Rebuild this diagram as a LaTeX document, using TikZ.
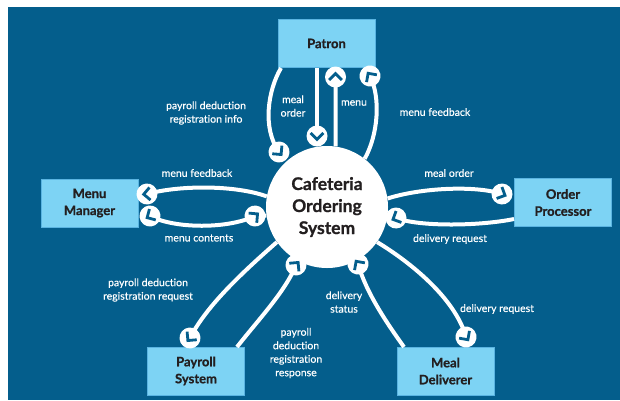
\documentclass[tikz,border=0pt]{standalone}
\usepackage{fontspec}
\setmainfont{Lato}[Ligatures=NoCommon]
\newfontfamily\lblfont{Lato}[Ligatures=NoCommon, FakeBold=0.35]
\newfontfamily\heavyfont{Lato}[Ligatures=NoCommon, BoldFeatures={FakeBold=0.9}]
\definecolor{bgblue}{RGB}{4,94,140}
\definecolor{boxblue}{RGB}{125,211,244}
\definecolor{boxedge}{RGB}{90,180,225}
\definecolor{ink}{RGB}{35,31,32}
\tikzset{
 box/.style={draw=boxedge, line width=0.8pt, fill=boxblue, minimum width=97pt, minimum height=48pt, inner sep=0pt, align=center, text=ink, font=\heavyfont\fontsize{13}{17}\selectfont\bfseries},
 hub/.style={circle, fill=white, minimum size=122pt, inner sep=0pt, align=center, text=ink, font=\heavyfont\fontsize{17.5}{22}\selectfont\bfseries},
 flow/.style={white, line width=4pt},
 lbl/.style={text=white, align=center, inner sep=0pt, font=\lblfont\fontsize{10.5}{13.5}\selectfont},
 pics/chev/.style={code={\fill[white] (0,0) circle (10.5pt);
   \draw[bgblue, line width=2.8pt, line join=miter] (-3pt,6.3pt) -- (3.3pt,0pt) -- (-3pt,-6.3pt);}}
}
\begin{document}
\begin{tikzpicture}[x=1pt,y=-1pt]
\useasboundingbox (0,0) rectangle (620,400);
\fill[white] (0,0) rectangle (620,400);
\fill[bgblue] (8,7) rectangle (620,400);

% nodes
\node[box] (patron) at (326.5,43.5) {Patron};
\node[box] (mm) at (89.5,203) {Menu\\Manager};
\node[box] (op) at (563,202.5) {Order\\Processor};
\node[box] (ps) at (196,371) {Payroll\\System};
\node[box] (md) at (445.5,371) {Meal\\Deliverer};
\node[hub] (sys) at (327,207) {Cafeteria\\Ordering\\System};

% end coordinates
\coordinate (p1s) at (281,68);
\coordinate (t1) at (279,152);
\coordinate (p2s) at (317,68);
\coordinate (t2) at (317,136);
\coordinate (t3) at (335.5,77);
\coordinate (t4) at (370,76);
\coordinate (t5) at (147,194);
\coordinate (t6a) at (150,216);
\coordinate (t6b) at (255,216);
\coordinate (t7) at (502,194);
\coordinate (p8s) at (514,219);
\coordinate (t8) at (396,218);
\coordinate (t9) at (190,338);
\coordinate (p10s) at (237,347);
\coordinate (t10) at (296,265);
\coordinate (p11s) at (404,347);
\coordinate (t11) at (358,264);
\coordinate (t12) at (466,337);

% connectors
\draw[flow] (p1s) .. controls (268,90) and (262,128) .. (t1);
\draw[flow] (p2s) -- (t2);
\draw[flow] (sys.82) -- (t3);
\draw[flow] (sys.52) .. controls (378,135) and (381,98) .. (t4);
\draw[flow] (sys.170) .. controls (235,185) and (180,185) .. (t5);
\draw[flow] (t6a) .. controls (175,229) and (228,229) .. (t6b) -- (sys.188);
\draw[flow] (sys.8) .. controls (420,188) and (475,185) .. (t7);
\draw[flow] (p8s) .. controls (480,226) and (420,227) .. (t8) -- (sys.-10);
\draw[flow] (sys.215) .. controls (243,272) and (207,305) .. (t9);
\draw[flow] (p10s) .. controls (258,320) and (285,292) .. (t10);
\draw[flow] (p11s) .. controls (386,322) and (366,292) .. (t11);
\draw[flow] (sys.-35) .. controls (410,262) and (455,298) .. (t12);

% tips
\pic[rotate=-50] at (t1) {chev};
\pic[rotate=-90] at (t2) {chev};
\pic[rotate=90] at (t3) {chev};
\pic[rotate=125] at (t4) {chev};
\pic[rotate=185] at (t5) {chev};
\pic[rotate=210] at (t6a) {chev};
\pic[rotate=40] at (t6b) {chev};
\pic[rotate=-25] at (t7) {chev};
\pic[rotate=205] at (t8) {chev};
\pic[rotate=230] at (t9) {chev};
\pic[rotate=50] at (t10) {chev};
\pic[rotate=125] at (t11) {chev};
\pic[rotate=-55] at (t12) {chev};

% labels
\node[lbl] (l1) at (206,113) {payroll deduction\\registration info};
\node[lbl] (l2) at (293,106) {meal\\order};
\node[lbl] (l3) at (354,103) {menu};
\node[lbl] (l4) at (435,112) {menu feedback};
\node[lbl] (l5) at (197,173) {menu feedback};
\node[lbl] (l6) at (199,238) {menu contents};
\node[lbl] (l7) at (449,173) {meal order};
\node[lbl] (l8) at (450,239) {delivery request};
\node[lbl] (l9) at (148,290) {payroll deduction\\registration request};
\node[lbl] (l10) at (296,353) {payroll\\deduction\\registration\\response};
\node[lbl] (l11) at (344,302) {delivery\\status};
\node[lbl] (l12) at (497,309) {delivery request};
\end{tikzpicture}
\end{document}
